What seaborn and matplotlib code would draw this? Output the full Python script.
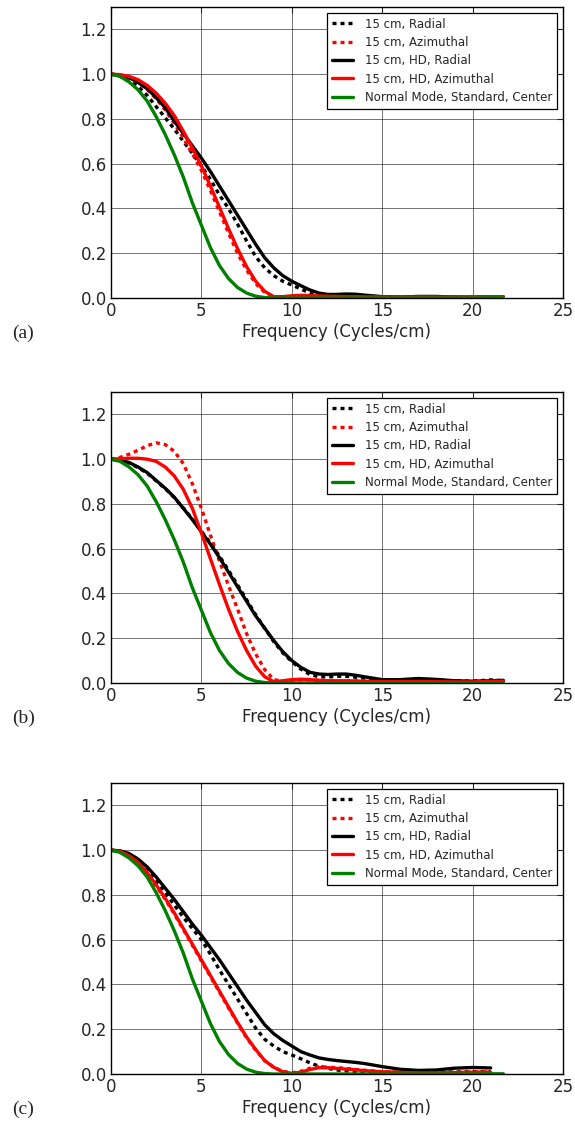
import matplotlib
matplotlib.use("Agg")
import matplotlib.pyplot as plt
import seaborn as sns
import numpy as np

# frequency samples (cycles/cm)
freq = [0, 0.5, 1, 1.5, 2, 2.5, 3, 3.5, 4, 4.5, 5, 5.5, 6, 6.5, 7, 7.5, 8, 8.5, 9, 9.5, 10,
        10.5, 11, 11.5, 12, 12.5, 13, 13.5, 14, 15, 16, 17, 18, 19, 20, 21, 21.7]

nan = np.nan

# Normal Mode, Standard, Center (same in every panel)
normal_mode = [1.0, 0.99, 0.965, 0.93, 0.88, 0.81, 0.73, 0.64, 0.54, 0.425, 0.325, 0.225, 0.145, 0.087, 0.047,
               0.022, 0.008, 0.002, 0.0, 0.0, 0.0, 0.0, 0.0, 0.0, 0.0, 0.0, 0.0, 0.0, 0.0,
               0.0, 0.0, 0.0, 0.0, 0.0, 0.0, 0.001, 0.001]

# --- panel (a) ---
a_radial = [1.0, 0.99, 0.975, 0.945, 0.905, 0.855, 0.805, 0.755, 0.70, 0.645, 0.59, 0.53, 0.46, 0.40, 0.33,
            0.255, 0.185, 0.135, 0.10, 0.075, 0.058, 0.04, 0.022, 0.012, 0.009, 0.01, 0.011, 0.01, 0.008,
            0.005, 0.004, 0.006, 0.006, 0.004, 0.004, 0.005, 0.005]
a_azimuthal = [1.0, 0.995, 0.982, 0.962, 0.932, 0.89, 0.84, 0.78, 0.715, 0.645, 0.57, 0.48, 0.385, 0.29, 0.20,
               0.125, 0.065, 0.025, 0.006, 0.004, 0.006, 0.008, 0.008, 0.007, 0.006, 0.005, 0.005, 0.005, 0.004,
               0.004, 0.004, 0.004, 0.004, 0.004, 0.004, 0.005, 0.005]
a_hd_radial = [1.0, 0.996, 0.985, 0.963, 0.935, 0.895, 0.85, 0.79, 0.735, 0.68, 0.625, 0.565, 0.50, 0.435, 0.37,
               0.305, 0.24, 0.18, 0.135, 0.10, 0.075, 0.055, 0.036, 0.022, 0.016, 0.016, 0.018, 0.017, 0.013,
               0.006, 0.004, 0.007, 0.007, 0.004, 0.003, 0.005, 0.005]
a_hd_azimuthal = [1.0, 0.998, 0.99, 0.975, 0.95, 0.915, 0.87, 0.815, 0.745, 0.67, 0.59, 0.50, 0.405, 0.31, 0.22,
                  0.14, 0.075, 0.03, 0.006, 0.006, 0.01, 0.012, 0.011, 0.009, 0.008, 0.007, 0.006, 0.006, 0.005,
                  0.005, 0.005, 0.005, 0.005, 0.005, 0.005, 0.006, 0.006]

# --- panel (b) ---
b_radial = [1.0, 0.995, 0.983, 0.962, 0.937, 0.903, 0.868, 0.828, 0.782, 0.732, 0.678, 0.625, 0.567, 0.503, 0.438,
            0.372, 0.305, 0.245, 0.185, 0.135, 0.095, 0.062, 0.038, 0.028, 0.027, 0.03, 0.03, 0.026, 0.022,
            0.013, 0.013, 0.017, 0.014, 0.009, 0.008, 0.014, 0.01]
b_azimuthal = [1.0, 1.008, 1.022, 1.04, 1.06, 1.073, 1.065, 1.035, 0.98, 0.89, 0.78, 0.66, 0.545, 0.435, 0.33,
               0.22, 0.13, 0.06, 0.015, 0.008, 0.012, 0.014, 0.014, 0.012, 0.01, 0.009, 0.009, 0.009, 0.008,
               0.007, 0.006, 0.007, 0.008, 0.006, 0.006, 0.01, 0.01]
b_hd_radial = [1.0, 0.995, 0.985, 0.965, 0.94, 0.905, 0.87, 0.83, 0.78, 0.73, 0.675, 0.62, 0.56, 0.495, 0.43,
               0.365, 0.30, 0.245, 0.19, 0.14, 0.10, 0.07, 0.048, 0.04, 0.038, 0.04, 0.04, 0.035, 0.028,
               0.015, 0.015, 0.02, 0.016, 0.01, 0.008, 0.01, 0.012]
b_hd_azimuthal = [1.0, 1.002, 1.004, 1.004, 1.0, 0.99, 0.965, 0.925, 0.865, 0.78, 0.67, 0.555, 0.44, 0.33, 0.23,
                  0.145, 0.075, 0.028, 0.006, 0.01, 0.015, 0.017, 0.015, 0.012, 0.01, 0.01, 0.01, 0.009, 0.008,
                  0.006, 0.006, 0.006, 0.006, 0.005, 0.005, 0.008, 0.008]

# --- panel (c) ---
c_radial = [1.0, 0.995, 0.98, 0.95, 0.91, 0.86, 0.81, 0.755, 0.70, 0.65, 0.60, 0.535, 0.465, 0.40, 0.335,
            0.27, 0.205, 0.155, 0.125, 0.10, 0.085, 0.068, 0.05, 0.035, 0.025, 0.018, 0.014, 0.012, 0.01,
            0.008, 0.008, 0.008, 0.008, 0.009, 0.01, 0.01, nan]
c_azimuthal = [1.0, 0.994, 0.973, 0.942, 0.896, 0.84, 0.78, 0.715, 0.645, 0.575, 0.505, 0.435, 0.365, 0.295, 0.227,
               0.162, 0.107, 0.06, 0.03, 0.012, 0.005, 0.012, 0.025, 0.032, 0.03, 0.028, 0.025, 0.02, 0.017,
               0.01, 0.007, 0.005, 0.006, 0.007, 0.008, 0.01, nan]
c_hd_radial = [1.0, 0.997, 0.985, 0.96, 0.925, 0.88, 0.83, 0.78, 0.725, 0.67, 0.62, 0.565, 0.51, 0.45, 0.39,
               0.33, 0.275, 0.22, 0.18, 0.15, 0.125, 0.10, 0.085, 0.072, 0.065, 0.06, 0.056, 0.052, 0.047,
               0.033, 0.021, 0.016, 0.018, 0.026, 0.029, 0.027, nan]
c_hd_azimuthal = [1.0, 0.995, 0.975, 0.945, 0.90, 0.845, 0.785, 0.72, 0.65, 0.58, 0.51, 0.44, 0.37, 0.30, 0.23,
                  0.165, 0.11, 0.06, 0.03, 0.01, 0.003, 0.008, 0.02, 0.028, 0.028, 0.025, 0.022, 0.019, 0.015,
                  0.01, 0.007, 0.005, 0.005, 0.006, 0.008, 0.008, nan]

labels = ["15 cm, Radial", "15 cm, Azimuthal", "15 cm, HD, Radial",
          "15 cm, HD, Azimuthal", "Normal Mode, Standard, Center"]
colors = ["black", "#ff0000", "black", "#ff0000", "#008000"]
dotted = (0, (1.2, 1.2))
styles = [dotted, dotted, "-", "-", "-"]

panels = [
    ("(a)", [a_radial, a_azimuthal, a_hd_radial, a_hd_azimuthal, normal_mode]),
    ("(b)", [b_radial, b_azimuthal, b_hd_radial, b_hd_azimuthal, normal_mode]),
    ("(c)", [c_radial, c_azimuthal, c_hd_radial, c_hd_azimuthal, normal_mode]),
]

sns.set_style("white")
plt.rcParams['font.family'] = ['DejaVu Sans']

fig = plt.figure(figsize=(5.75, 11.23), dpi=100)
W, H = 575.0, 1123.0
tops = [7, 392, 783]
ax_h = 291
left, right = 111, 563

for (tag, series), top in zip(panels, tops):
    ax = fig.add_axes([left / W, 1 - (top + ax_h) / H, (right - left) / W, ax_h / H])
    for y, lab, c, ls in zip(series, labels, colors, styles):
        sns.lineplot(x=freq, y=y, ax=ax, color=c, linestyle=ls, linewidth=2.4, label=lab)

    ax.set_xlim(0, 25)
    ax.set_ylim(0, 1.3)
    ax.set_xticks([0, 5, 10, 15, 20, 25])
    ax.set_yticks([0.0, 0.2, 0.4, 0.6, 0.8, 1.0, 1.2])
    ax.set_yticklabels(["0.0", "0.2", "0.4", "0.6", "0.8", "1.0", "1.2"])
    ax.grid(True, color="k", linewidth=0.7, alpha=0.55)
    ax.tick_params(direction="in", length=4, top=True, right=True, labelsize=12, pad=3)
    for s in ax.spines.values():
        s.set_color("k")
        s.set_linewidth(1.0)
    ax.set_xlabel("Frequency (Cycles/cm)", fontsize=12, labelpad=2)
    ax.set_ylabel("")

    leg = ax.legend(loc="upper right", fontsize=8.5, frameon=True, fancybox=False,
                    edgecolor="k", framealpha=1, handlelength=1.8, handletextpad=1.0,
                    borderaxespad=0.5, labelspacing=0.45)
    leg.get_frame().set_linewidth(0.9)

    ybot = top + ax_h
    fig.text(12 / W, 1 - (ybot + 35) / H, tag, fontsize=14, family="Liberation Serif",
             ha="left", va="center")

fig.savefig("out.png", dpi=100)
